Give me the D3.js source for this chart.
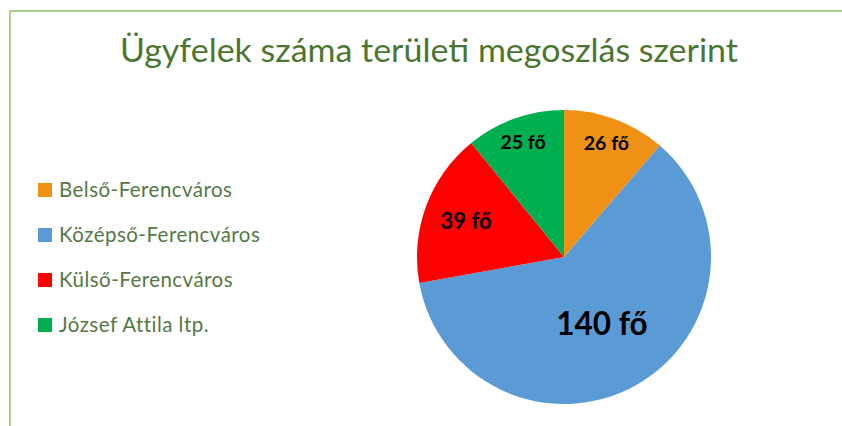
<!DOCTYPE html>
<html><head><meta charset="utf-8">
<script src="https://cdn.jsdelivr.net/npm/d3@7"></script>
<style>html,body{margin:0;padding:0;background:#fff;}svg{display:block;}</style>
</head><body>
<svg id="chart" width="842" height="426"></svg>
<script>
const categories = ["Belső-Ferencváros", "Középső-Ferencváros", "Külső-Ferencváros", "József Attila ltp."];
const values = [26, 140, 39, 25];
const labels = ["26 fő", "140 fő", "39 fő", "25 fő"];
const colors = ["#EE9115", "#5B9BD5", "#FF0000", "#00B050"];
const title = "Ügyfelek száma területi megoszlás szerint";

// style config
const labelRadiusFactor = [0.83, 0.52, 0.71, 0.83];
const labelFontSize = [19.5, 31.5, 22, 19.5];
const FONT = "Lato, 'Open Sans', sans-serif";

const svg = d3.select("#chart");

// border
svg.append("path").attr("d", "M10,426 L10,11 L842,11")
  .attr("fill", "none").attr("stroke", "#A9D18E").attr("stroke-width", 2);

// title
svg.append("text").attr("x", 120).attr("y", 62)
  .attr("font-family", FONT).attr("font-size", 32).attr("fill", "#4A7631")
  .attr("textLength", 618).attr("lengthAdjust", "spacingAndGlyphs")
  .text(title);

// pie
const cx = 564, cy = 257, r = 147;
const pie = d3.pie().sort(null).value(d => d)(values);
const arc = d3.arc().innerRadius(0).outerRadius(r);
const g = svg.append("g").attr("transform", `translate(${cx},${cy})`);
g.selectAll("path").data(pie).join("path")
  .attr("d", arc).attr("fill", (d, i) => colors[i]);

g.selectAll("text").data(pie).join("text")
  .attr("transform", (d, i) => {
    const a = (d.startAngle + d.endAngle) / 2, rr = r * labelRadiusFactor[i];
    return `translate(${Math.sin(a) * rr},${-Math.cos(a) * rr})`;
  })
  .attr("text-anchor", "middle").attr("dy", "0.36em")
  .attr("font-family", FONT).attr("font-weight", "bold")
  .attr("font-size", (d, i) => labelFontSize[i]).attr("fill", "#000")
  .text((d, i) => labels[i]);

// legend
const lg = svg.append("g").attr("transform", "translate(38,190)");
const items = lg.selectAll("g").data(categories).join("g")
  .attr("transform", (d, i) => `translate(0,${i * 45})`);
items.append("rect").attr("x", 0).attr("y", -7).attr("width", 14).attr("height", 14)
  .attr("fill", (d, i) => colors[i]);
const lt = items.append("text").attr("x", 21).attr("y", 0).attr("dy", "0.36em")
  .attr("font-family", FONT).attr("font-size", 20.5).attr("fill", "#557845")
  .text(d => d);
// match the wider letter spacing of the original legend
const w0 = lt.nodes()[0].getComputedTextLength();
const ls = (173 - w0) / (categories[0].length - 1);
lt.attr("letter-spacing", ls);
</script>
</body></html>
